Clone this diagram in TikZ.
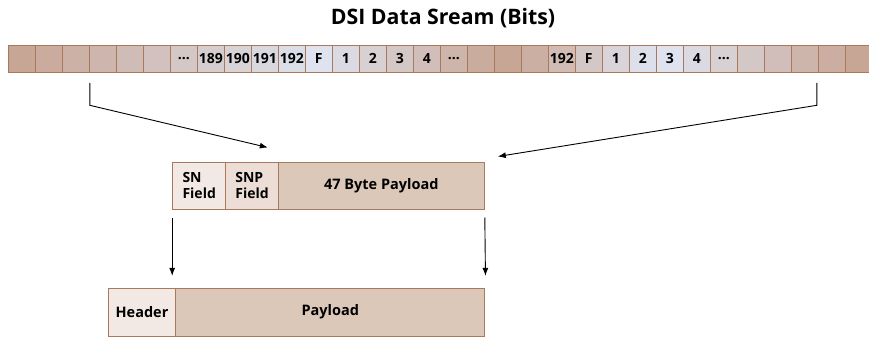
\documentclass[tikz,border=0pt]{standalone}
\usepackage{fontspec}
\setmainfont{Open Sans}
\usetikzlibrary{arrows.meta, positioning, calc}
\definecolor{cellbrown}{RGB}{200,166,150}
\definecolor{cellblue}{RGB}{222,227,239}
\definecolor{edgebrown}{RGB}{170,120,90}
\definecolor{hdrfill}{RGB}{243,233,228}
\definecolor{snpfill}{RGB}{236,222,214}
\definecolor{payfill}{RGB}{220,200,184}

\begin{document}
\begin{tikzpicture}[x=1pt, y=-1pt,
  bitcell/.style={draw=edgebrown, line width=1pt, minimum width=27pt, minimum height=27pt, inner sep=0pt, font=\bfseries\fontsize{14}{14}\selectfont},
  fieldbox/.style={draw=edgebrown, line width=1pt, inner sep=0pt, minimum height=47pt, font=\bfseries\fontsize{14}{16}\selectfont},
  link/.style={-{Latex[length=8pt,width=6pt]}, line width=0.9pt}]
  \useasboundingbox (0,0) rectangle (869,337);

  % Title
  \node[font=\bfseries\fontsize{21.3}{23}\selectfont] (title) at (443,18) {DSI Data Sream (Bits)};

  % Bit stream
  \foreach \i/\m/\t in {1/0/{},2/9/{},3/18/{},4/27/{},5/36/{},6/45/{},7/55/\ldots,8/64/189,9/73/190,10/82/191,11/91/192,12/100/F,13/85/1,14/70/2,15/55/3,16/40/4,17/25/\ldots,18/10/{},19/0/{},20/15/{},21/35/192,22/55/F,23/75/1,24/95/2,25/100/3,26/85/4,27/70/\ldots,28/55/{},29/40/{},30/25/{},31/12/{},32/0/{}} {
    \pgfmathsetmacro{\cx}{8.3+(\i-0.5)*27}
    \node[bitcell, fill=cellblue!\m!cellbrown] (c\i) at (\cx,58.8) {\t};
  }

  % Frame with SN / SNP fields
  \node[fieldbox, fill=hdrfill, minimum width=53pt, align=left] (sn) at (199.2,185.5) {SN\\Field};
  \node[fieldbox, fill=snpfill, minimum width=52.6pt, align=left] (snp) at (252,185.5) {SNP\\Field};
  \node[fieldbox, fill=payfill, minimum width=206pt, font=\bfseries\fontsize{14.5}{16}\selectfont] (pay47) at (381.3,185.5) {47 Byte Payload};

  % Output packet
  \node[fieldbox, fill=hdrfill, minimum width=67.4pt, minimum height=47.7pt, font=\bfseries\fontsize{14.5}{16}\selectfont] (hdr) at (142,312.2) {Header};
  \node[fieldbox, fill=payfill, minimum width=309.3pt, minimum height=47.7pt, font=\bfseries\fontsize{14.5}{16}\selectfont] (pay) at (330.3,312.2) {Payload};

  % Arrows
  \draw[link] ([yshift=-10pt]c3.south east) -- ++(0,22.5) -- ([xshift=-11pt,yshift=14pt]snp.north east);
  \draw[link] ([xshift=-2pt,yshift=-10pt]c30.south east) -- ++(0,22.5) -- ([xshift=13pt,yshift=5pt]pay47.north east);
  \draw[link] ([yshift=-8pt]sn.south west) -- ([yshift=12pt]hdr.north -| sn.south west);
  \draw[link] ([yshift=-8pt]pay47.south east) -- ([yshift=12pt]pay.north east);
\end{tikzpicture}
\end{document}
